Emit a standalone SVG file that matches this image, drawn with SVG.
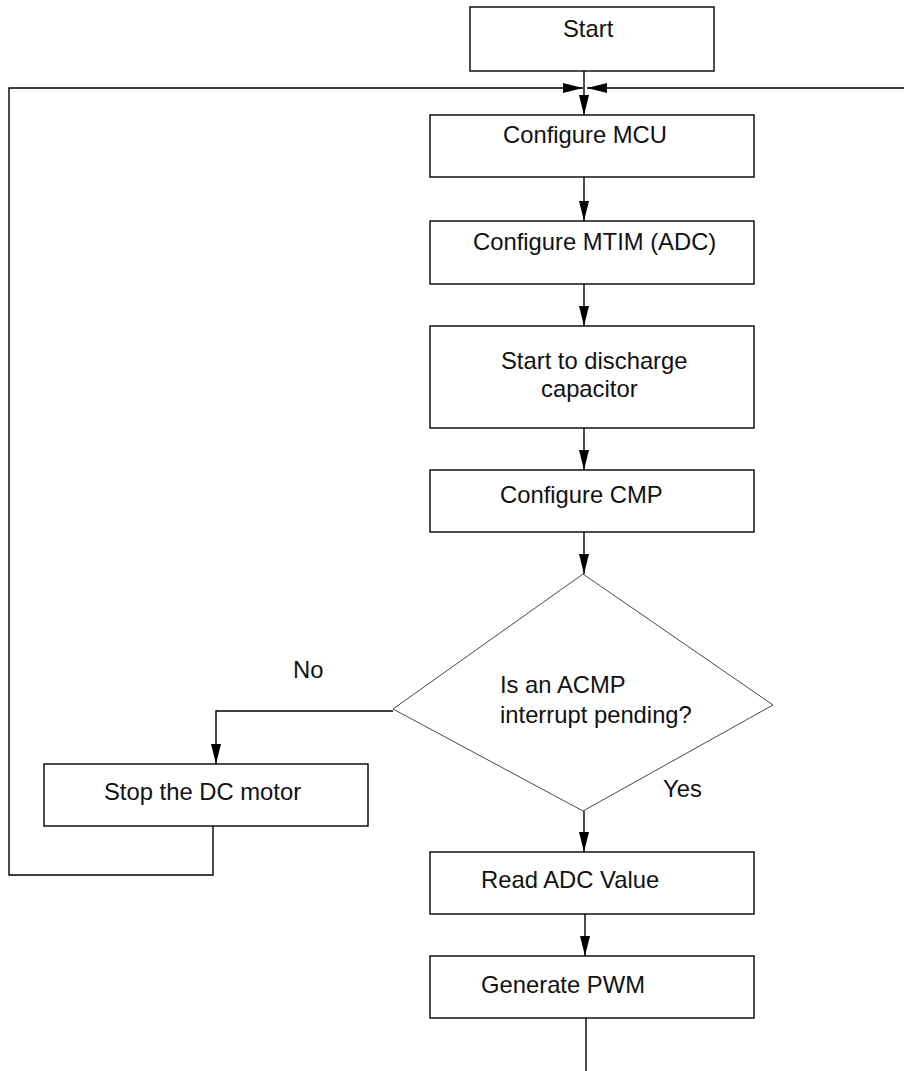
<svg xmlns="http://www.w3.org/2000/svg" width="904" height="1071" viewBox="0 0 904 1071">
<style>
.box{fill:#fff;stroke:#000;stroke-width:1.4}
.dia{fill:#fff;stroke:#333;stroke-width:0.9}
.c{fill:none;stroke:#000;stroke-width:1.4}
text{font-family:"Liberation Sans",Arial,sans-serif;font-size:23.8px;fill:#111}
</style>
<defs>
<marker id="ah" markerUnits="userSpaceOnUse" markerWidth="20" markerHeight="11" refX="20" refY="5" orient="auto">
<path d="M0,0 L20,5 L0,10 z" fill="#000"/>
</marker>
</defs>
<g id="connectors">
<line class="c" x1="584" y1="71" x2="584" y2="115" marker-end="url(#ah)"/>
<path class="c" d="M213,826 V875 H9 V88 H583" marker-end="url(#ah)"/>
<path class="c" d="M904,88 H587" marker-end="url(#ah)"/>
<line class="c" x1="584" y1="177" x2="584" y2="221" marker-end="url(#ah)"/>
<line class="c" x1="584" y1="284" x2="584" y2="326" marker-end="url(#ah)"/>
<line class="c" x1="584" y1="428" x2="584" y2="470" marker-end="url(#ah)"/>
<line class="c" x1="584" y1="532" x2="584" y2="574" marker-end="url(#ah)"/>
<path class="c" d="M393,711 H216 V764" marker-end="url(#ah)"/>
<line class="c" x1="584" y1="811" x2="584" y2="852" marker-end="url(#ah)"/>
<line class="c" x1="585" y1="914" x2="585" y2="956" marker-end="url(#ah)"/>
<line class="c" x1="586" y1="1018" x2="586" y2="1071"/>
</g>
<g id="start"><rect class="box" x="470" y="7" width="244" height="64"/><text x="563" y="37">Start</text></g>
<g id="mcu"><rect class="box" x="430" y="115" width="324" height="62"/><text x="503" y="143">Configure MCU</text></g>
<g id="mtim"><rect class="box" x="430" y="221" width="324" height="63"/><text x="473" y="250">Configure MTIM (ADC)</text></g>
<g id="discharge"><rect class="box" x="430" y="326" width="324" height="102"/><text x="501" y="369">Start to discharge</text><text x="541" y="397">capacitor</text></g>
<g id="cmp"><rect class="box" x="430" y="470" width="324" height="62"/><text x="500" y="503">Configure CMP</text></g>
<g id="decision"><polygon class="dia" points="583,574 773,705 583,811 393,709"/><text x="500" y="693">Is an ACMP</text><text x="500" y="723">interrupt pending?</text></g>
<g id="label-no"><text x="293" y="678">No</text></g>
<g id="label-yes"><text x="663" y="797">Yes</text></g>
<g id="stop"><rect class="box" x="44" y="764" width="324" height="62"/><text x="104" y="800">Stop the DC motor</text></g>
<g id="read"><rect class="box" x="430" y="852" width="324" height="62"/><text x="481" y="888">Read ADC Value</text></g>
<g id="pwm"><rect class="box" x="430" y="956" width="324" height="62"/><text x="481" y="993">Generate PWM</text></g>
</svg>
